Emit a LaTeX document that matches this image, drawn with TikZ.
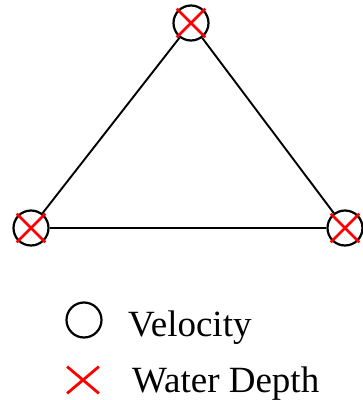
\documentclass[tikz,border=0pt]{standalone}
\usepackage{fontspec}
\setmainfont{LiberationSerif}[Extension=.ttf, UprightFont=*-Regular]
\usetikzlibrary{shapes.misc}

\tikzset{
	gauge/.style={circle, draw=black, line width=2.2pt, minimum size=35pt, inner sep=0pt},
	depth/.style={cross out, draw=red, line width=2.6pt, minimum size=26pt, inner sep=0pt},
	edge/.style={draw=black, line width=1.9pt},
	legend/.style={anchor=base west, inner sep=0pt, font=\fontsize{37}{40}\selectfont}
}

\begin{document}
\begin{tikzpicture}[x=1pt, y=-1pt]
		\useasboundingbox (0,0) rectangle (363,400);
		% stations
		\node (top) [gauge] at (191,23) {};
		\node (left) [gauge] at (31,228) {};
		\node (right) [gauge] at (345,228) {};
		\node (topx) [depth] at (191,23) {};
		\node (leftx) [depth] at (31,228) {};
		\node (rightx) [depth] at (345,228) {};
		
		\draw [edge] (top) -- (left);
		\draw [edge] (top) -- (right);
		\draw [edge] (left) -- (right);
		
		% legend
		\node (velsym) [circle, draw=black, line width=2.2pt, minimum size=35pt, inner sep=0pt] at (84,320) {};
		\node (vel) [legend] at (128,336) {Velocity};
		\node (depsym) [cross out, draw=red, line width=2.8pt, minimum width=29pt, minimum height=24pt, inner sep=0pt] at (83,380) {};
		\node (dep) [legend] at (132,392) {Water Depth};
	\end{tikzpicture}
\end{document}
